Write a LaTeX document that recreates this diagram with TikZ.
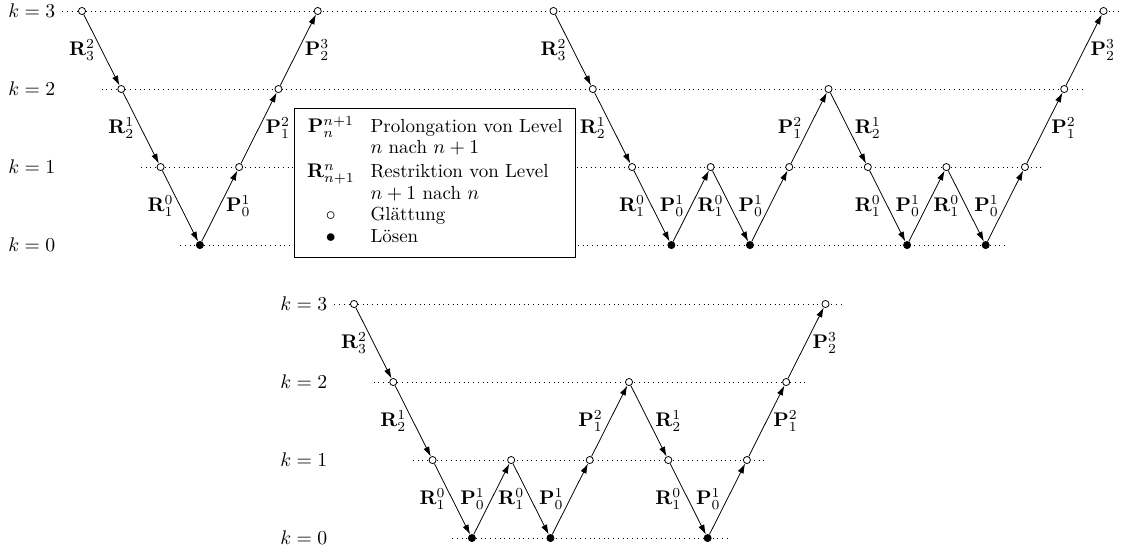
\documentclass[tikz,border=0pt]{standalone}
\usepackage{amsmath,amssymb}
\usepackage{tikz}
\usetikzlibrary{arrows.meta}

\newcommand{\Restr}[2]{$\mathbf{R}_{#1}^{#2}$}
\newcommand{\Prol}[2]{$\mathbf{P}_{#1}^{#2}$}

\begin{document}
\begin{tikzpicture}[x=0.7cm,y=1.39cm,
  lvl/.style={dotted},
  pt/.style={circle,draw,inner sep=0pt,minimum size=3.6pt},
  lv0/.style={pt,fill=black},
  lv1/.style={pt,fill=white},
  lv2/.style={pt,fill=white},
  lv3/.style={pt,fill=white},
  lab/.style={inner sep=1pt,outer sep=2.4pt},
  arr/.style={-{Latex[length=5pt,width=3.2pt]}}]
\useasboundingbox (-2.087,-3.897) rectangle (26.495,3.141);

% Level-Linien oben
\foreach \k in {0,...,3} {
  \draw[lvl] ({2.5-\k},\k) -- ({23.5+\k},\k);
  \node[left] (k\k) at (-0.5,\k) {$k=\k$};
}

% Legende
\node[draw,fill=white,inner xsep=2.6pt,inner ysep=4pt] (leg) at (8.98,0.80) {%
  \fontsize{9.6}{11}\selectfont\setlength{\tabcolsep}{4pt}%
  \begin{tabular}{cl}
  \Prol{n}{n+1} & Prolongation von Level\\
   & $n$ nach $n+1$\\[1pt]
  \Restr{n+1}{n} & Restriktion von Level\\
   & $n+1$ nach $n$\\
  $\circ$ & Glättung\\
  $\bullet$ & Lösen
  \end{tabular}};

% V-Zyklus
\foreach \k [count=\i from 0] in {3,2,1,0,1,2,3}
  \node[lv\k] (v\i) at (\i,\k) {};
\draw[arr] (v0) -- node[lab,left]{\Restr32} (v1);
\draw[arr] (v1) -- node[lab,left]{\Restr21} (v2);
\draw[arr] (v2) -- node[lab,left]{\Restr10} (v3);
\draw[arr] (v3) -- node[lab,right]{\Prol01} (v4);
\draw[arr] (v4) -- node[lab,right]{\Prol12} (v5);
\draw[arr] (v5) -- node[lab,right]{\Prol23} (v6);

% W-Zyklus
\foreach \k [count=\i from 0] in {3,2,1,0,1,0,1,2,1,0,1,0,1,2,3}
  \node[lv\k] (w\i) at ({12+\i},\k) {};
\draw[arr] (w0) -- node[lab,left]{\Restr32} (w1);
\draw[arr] (w1) -- node[lab,left]{\Restr21} (w2);
\draw[arr] (w2) -- node[lab,left]{\Restr10} (w3);
\draw[arr] (w3) -- node[lab,left]{\Prol01} (w4);
\draw[arr] (w4) -- node[lab,left]{\Restr10} (w5);
\draw[arr] (w5) -- node[lab,left]{\Prol01} (w6);
\draw[arr] (w6) -- node[lab,left]{\Prol12} (w7);
\draw[arr] (w7) -- node[lab,right]{\Restr21} (w8);
\draw[arr] (w8) -- node[lab,left]{\Restr10} (w9);
\draw[arr] (w9) -- node[lab,left]{\Prol01} (w10);
\draw[arr] (w10) -- node[lab,left]{\Restr10} (w11);
\draw[arr] (w11) -- node[lab,left]{\Prol01} (w12);
\draw[arr] (w12) -- node[lab,right]{\Prol12} (w13);
\draw[arr] (w13) -- node[lab,right]{\Prol23} (w14);

% F-Zyklus
\begin{scope}[xshift=4.846cm,yshift=-5.22cm]
\foreach \k in {0,...,3} {
  \draw[lvl] ({2.5-\k},\k) -- ({9.5+\k},\k);
  \node[left] (fk\k) at (-0.5,\k) {$k=\k$};
}
\foreach \k [count=\i from 0] in {3,2,1,0,1,0,1,2,1,0,1,2,3}
  \node[lv\k] (f\i) at (\i,\k) {};
\draw[arr] (f0) -- node[lab,left]{\Restr32} (f1);
\draw[arr] (f1) -- node[lab,left]{\Restr21} (f2);
\draw[arr] (f2) -- node[lab,left]{\Restr10} (f3);
\draw[arr] (f3) -- node[lab,left]{\Prol01} (f4);
\draw[arr] (f4) -- node[lab,left]{\Restr10} (f5);
\draw[arr] (f5) -- node[lab,left]{\Prol01} (f6);
\draw[arr] (f6) -- node[lab,left]{\Prol12} (f7);
\draw[arr] (f7) -- node[lab,right]{\Restr21} (f8);
\draw[arr] (f8) -- node[lab,left]{\Restr10} (f9);
\draw[arr] (f9) -- node[lab,left]{\Prol01} (f10);
\draw[arr] (f10) -- node[lab,right]{\Prol12} (f11);
\draw[arr] (f11) -- node[lab,right]{\Prol23} (f12);
\end{scope}
\end{tikzpicture}
\end{document}
